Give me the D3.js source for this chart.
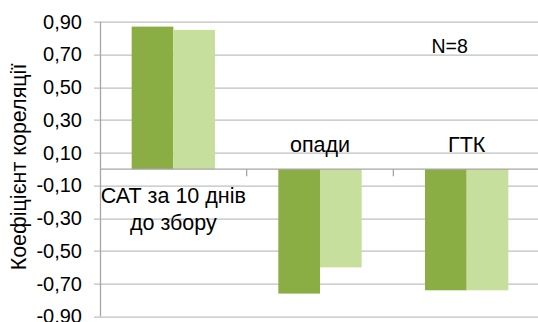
<!DOCTYPE html>
<html>
<head>
<meta charset="utf-8">
<script src="https://cdn.jsdelivr.net/npm/d3@7"></script>
<style>
  body { margin: 0; background: #fff; }
  svg { display: block; font-family: "Liberation Sans", Arial, sans-serif; }
</style>
</head>
<body>
<div id="chart"></div>
<script>
/* chart data */
var categories = [["САТ за 10 днів", "до збору"], ["опади"], ["ГТК"]];
var seriesDark = [0.87, -0.76, -0.74];
var seriesLight = [0.85, -0.60, -0.74];
var yTicks = [0.9, 0.7, 0.5, 0.3, 0.1, -0.1, -0.3, -0.5, -0.7, -0.9];
var yTitle = "Коефіцієнт кореляції";
var noteText = "N=8";

var width = 538, height = 322;
var margin = { top: 21.7, right: -2, bottom: 5.5, left: 100 };
var plotW = width - margin.left - margin.right;
var plotH = height - margin.top - margin.bottom;

var svg = d3.select("#chart").append("svg")
    .attr("width", width)
    .attr("height", height);

svg.append("rect").attr("width", width).attr("height", height).attr("fill", "#fff");

var g = svg.append("g")
    .attr("transform", "translate(" + margin.left + "," + margin.top + ")");

var x = d3.scaleBand()
    .domain(d3.range(categories.length))
    .range([0, plotW])
    .paddingInner(0)
    .paddingOuter(0);

var xSub = d3.scaleBand()
    .domain(["dark", "light"])
    .range([0, x.bandwidth()])
    .paddingInner(0)
    .paddingOuter(0.76);

var y = d3.scaleLinear().domain([-0.9, 0.9]).range([plotH, 0]);

function fmt(v) {
  return d3.format(".2f")(v).replace("−", "-").replace(".", ",");
}

// grid lines (with the little tick stub left of the axis)
g.append("g").selectAll("line")
  .data(yTicks)
  .join("line")
    .attr("x1", -6)
    .attr("x2", plotW)
    .attr("y1", function (d) { return Math.round(y(d)) + 0.5; })
    .attr("y2", function (d) { return Math.round(y(d)) + 0.5; })
    .attr("stroke", "#bfbfbf")
    .attr("stroke-width", 1.3);

// y axis labels
var yAxis = d3.axisLeft(y).tickValues(yTicks).tickFormat(fmt).tickSize(0).tickPadding(18);
var ya = g.append("g").attr("class", "y axis").call(yAxis);
ya.select(".domain").remove();
ya.selectAll("text")
  .attr("font-family", "Liberation Sans")
  .attr("font-size", 20)
  .attr("fill", "#000");

// left axis line
g.append("line")
  .attr("x1", 0.5).attr("x2", 0.5)
  .attr("y1", 0).attr("y2", plotH)
  .attr("stroke", "#a6a6a6").attr("stroke-width", 1.3);

// bars
var groups = g.selectAll(".cat")
  .data(categories.map(function (c, i) { return { i: i, vals: [["dark", seriesDark[i]], ["light", seriesLight[i]]] }; }))
  .join("g")
    .attr("class", "cat")
    .attr("transform", function (d) { return "translate(" + x(d.i) + ",0)"; });

var colors = { dark: "#8bae44", light: "#c6df9c" };
groups.selectAll("rect")
  .data(function (d) { return d.vals; })
  .join("rect")
    .attr("x", function (d) { return xSub(d[0]); })
    .attr("width", xSub.bandwidth())
    .attr("y", function (d) { return y(Math.max(0, d[1])); })
    .attr("height", function (d) { return Math.abs(y(d[1]) - y(0)); })
    .attr("fill", function (d) { return colors[d[0]]; });

// category axis at zero
var zeroY = Math.round(y(0)) + 0.5;
g.append("line")
  .attr("x1", 0).attr("x2", plotW)
  .attr("y1", zeroY).attr("y2", zeroY)
  .attr("stroke", "#a6a6a6").attr("stroke-width", 1.3);
g.append("g").selectAll("line")
  .data(d3.range(1, categories.length))
  .join("line")
    .attr("x1", function (d) { return x(d); })
    .attr("x2", function (d) { return x(d); })
    .attr("y1", zeroY).attr("y2", zeroY + 7)
    .attr("stroke", "#a6a6a6").attr("stroke-width", 1.3);

// category labels: below axis for positive bars, above for negative ones
categories.forEach(function (lines, i) {
  var neg = seriesDark[i] < 0;
  var t = g.append("text")
    .attr("text-anchor", "middle")
    .attr("font-size", 21.5)
    .attr("fill", "#000");
  lines.forEach(function (line, k) {
    var base = neg ? zeroY - 17 - (lines.length - 1 - k) * 26 : zeroY + 34 + k * 26.5;
    t.append("tspan")
      .attr("x", x(i) + x.bandwidth() / 2)
      .attr("y", base)
      .text(line);
  });
});

// N=8 note
g.append("text")
  .attr("x", x(2) + x.bandwidth() / 2 - 17)
  .attr("y", y(0.71))
  .attr("text-anchor", "middle")
  .attr("font-size", 19.5)
  .text(noteText);

// y axis title
svg.append("text")
  .attr("transform", "translate(26," + 167 + ") rotate(-90)")
  .attr("text-anchor", "middle")
  .attr("font-size", 21.5)
  .text(yTitle);
</script>
</body>
</html>
